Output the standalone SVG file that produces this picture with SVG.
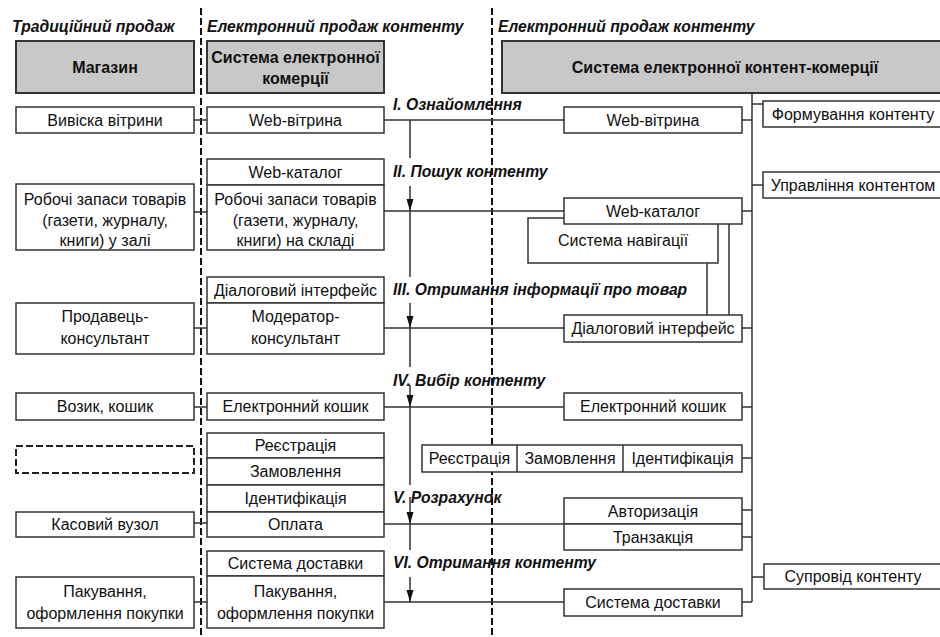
<svg xmlns="http://www.w3.org/2000/svg" width="940" height="637" viewBox="0 0 940 637">
<style>
.box{fill:#fff;stroke:#333;stroke-width:1.5}
.hdr{fill:#c8c8c8;stroke:#333;stroke-width:2}
.dbox{fill:none;stroke:#222;stroke-width:2;stroke-dasharray:7 3}
.t{font-family:"Liberation Sans",Arial,sans-serif;font-size:16px;fill:#111;text-anchor:middle}
.b{font-weight:bold}
.lbl{font-family:"Liberation Sans",Arial,sans-serif;font-size:15.7px;font-weight:bold;font-style:italic;fill:#111}
.ln{stroke:#333;stroke-width:1.5;fill:none}
.sep{stroke:#111;stroke-width:2;stroke-dasharray:7 3;fill:none}
</style>
<defs>
<marker id="ah" markerUnits="userSpaceOnUse" markerWidth="12" markerHeight="8" refX="12" refY="3.5" orient="auto">
<path d="M0,0 L12,3.5 L0,7 z" fill="#111"/>
</marker>
</defs>

<g id="headings">
<text class="lbl" x="12" y="32">Традиційний продаж</text>
<text class="lbl" x="207" y="32">Електронний продаж контенту</text>
<text class="lbl" x="498" y="32">Електронний продаж контенту</text>
</g>

<g id="separators">
<line class="sep" x1="201" y1="8" x2="201" y2="637"/>
<line class="sep" x1="492" y1="8" x2="492" y2="637"/>
</g>

<g id="connectors">
<path class="ln" d="M194,120H207 M194,212H207 M194,328H207 M194,407H207 M194,523H207 M194,602H207"/>
<path class="ln" d="M384,120H564 M384,211H564 M384,328H564 M384,407H564 M384,524H564 M384,602H564"/>
<path class="ln" d="M752,93V602 M742,120H752 M742,211H752 M742,328H752 M742,407H752 M742,458H752 M742,510H752 M742,537H752 M742,602H752 M752,104H763 M752,185H763 M752,577H764"/>
<path class="ln" d="M707,263V315 M729,224V315"/>
<path class="ln" d="M410,120V158 M410,211V277 M410,328V367 M410,407V485 M410,524V550"/>
<path class="ln" marker-end="url(#ah)" d="M410,186V211"/>
<path class="ln" marker-end="url(#ah)" d="M410,303V328"/>
<path class="ln" marker-end="url(#ah)" d="M410,385V407"/>
<path class="ln" marker-end="url(#ah)" d="M410,497V524"/>
<path class="ln" marker-end="url(#ah)" d="M410,577V602"/>
</g>

<g id="stages">
<text class="lbl" x="393" y="110">I. Ознайомлення</text>
<text class="lbl" x="393" y="177">II. Пошук контенту</text>
<text class="lbl" x="393" y="295">III. Отримання інформації про товар</text>
<text class="lbl" x="393" y="386">IV. Вибір контенту</text>
<text class="lbl" x="393" y="503">V. Розрахунок</text>
<text class="lbl" x="393" y="568">VI. Отримання контенту</text>
</g>

<g id="shop"><rect class="hdr" x="16" y="41" width="178" height="52"/><text class="t b" x="105" y="73">Магазин</text></g>
<g id="ecom"><rect class="hdr" x="207" y="41" width="177" height="52"/><text class="t b" x="295.5" y="63">Система електронної</text><text class="t b" x="295.5" y="84">комерції</text></g>
<g id="contentcom"><rect class="hdr" x="502" y="41" width="446" height="52"/><text class="t b" x="725" y="73">Система електронної контент-комерції</text></g>

<g id="l1"><rect class="box" x="16" y="107" width="178" height="26"/><text class="t" x="105" y="126">Вивіска вітрини</text></g>
<g id="l2"><rect class="box" x="16" y="184" width="178" height="66"/><text class="t" x="105" y="205">Робочі запаси товарів</text><text class="t" x="105" y="226">(газети, журналу,</text><text class="t" x="105" y="246">книги) у залі</text></g>
<g id="l3"><rect class="box" x="16" y="303" width="178" height="51"/><text class="t" x="105" y="322">Продавець-</text><text class="t" x="105" y="344">консультант</text></g>
<g id="l4"><rect class="box" x="16" y="393" width="178" height="27"/><text class="t" x="105" y="412">Возик, кошик</text></g>
<g id="l5"><rect class="dbox" x="16" y="446" width="178" height="27"/></g>
<g id="l6"><rect class="box" x="16" y="512" width="178" height="25"/><text class="t" x="105" y="530">Касовий вузол</text></g>
<g id="l7"><rect class="box" x="16" y="577" width="178" height="51"/><text class="t" x="105" y="597">Пакування,</text><text class="t" x="105" y="619">оформлення покупки</text></g>

<g id="m1"><rect class="box" x="207" y="107" width="177" height="26"/><text class="t" x="295.5" y="126">Web-вітрина</text></g>
<g id="m2a"><rect class="box" x="207" y="159" width="177" height="26"/><text class="t" x="295.5" y="178">Web-каталог</text></g>
<g id="m2b"><rect class="box" x="207" y="185" width="177" height="65"/><text class="t" x="295.5" y="205">Робочі запаси товарів</text><text class="t" x="295.5" y="226">(газети, журналу,</text><text class="t" x="295.5" y="246">книги) на складі</text></g>
<g id="m3a"><rect class="box" x="207" y="277" width="177" height="26"/><text class="t" x="295.5" y="296">Діалоговий інтерфейс</text></g>
<g id="m3b"><rect class="box" x="207" y="303" width="177" height="51"/><text class="t" x="295.5" y="322">Модератор-</text><text class="t" x="295.5" y="344">консультант</text></g>
<g id="m4"><rect class="box" x="207" y="393" width="177" height="27"/><text class="t" x="295.5" y="412">Електронний кошик</text></g>
<g id="m5a"><rect class="box" x="207" y="433" width="177" height="25"/><text class="t" x="295.5" y="451">Реєстрація</text></g>
<g id="m5b"><rect class="box" x="207" y="458" width="177" height="27"/><text class="t" x="295.5" y="477">Замовлення</text></g>
<g id="m5c"><rect class="box" x="207" y="485" width="177" height="27"/><text class="t" x="295.5" y="504">Ідентифікація</text></g>
<g id="m5d"><rect class="box" x="207" y="512" width="177" height="25"/><text class="t" x="295.5" y="530">Оплата</text></g>
<g id="m6a"><rect class="box" x="207" y="551" width="177" height="25"/><text class="t" x="295.5" y="569">Система доставки</text></g>
<g id="m6b"><rect class="box" x="207" y="576" width="177" height="52"/><text class="t" x="295.5" y="597">Пакування,</text><text class="t" x="295.5" y="619">оформлення покупки</text></g>

<g id="r1"><rect class="box" x="564" y="107" width="178" height="26"/><text class="t" x="653" y="126">Web-вітрина</text></g>
<g id="rnav"><rect class="box" x="528" y="218" width="190" height="45"/><text class="t" x="623" y="246">Система навігації</text></g>
<g id="r2"><rect class="box" x="564" y="198" width="178" height="26"/><text class="t" x="653" y="217">Web-каталог</text></g>
<g id="r3"><rect class="box" x="564" y="315" width="178" height="27"/><text class="t" x="653" y="334">Діалоговий інтерфейс</text></g>
<g id="r4"><rect class="box" x="564" y="393" width="178" height="27"/><text class="t" x="653" y="412">Електронний кошик</text></g>
<g id="r5"><rect class="box" x="422" y="445" width="320" height="27"/><line class="ln" x1="517" y1="445" x2="517" y2="472"/><line class="ln" x1="623" y1="445" x2="623" y2="472"/><text class="t" x="469.5" y="464">Реєстрація</text><text class="t" x="570" y="464">Замовлення</text><text class="t" x="682.5" y="464">Ідентифікація</text></g>
<g id="r6a"><rect class="box" x="564" y="498" width="178" height="26"/><text class="t" x="653" y="517">Авторизація</text></g>
<g id="r6b"><rect class="box" x="564" y="524" width="178" height="26"/><text class="t" x="653" y="543">Транзакція</text></g>
<g id="r7"><rect class="box" x="564" y="589" width="178" height="27"/><text class="t" x="653" y="608">Система доставки</text></g>

<g id="f1"><rect class="box" x="763" y="101" width="182" height="26"/><text class="t" x="853" y="120">Формування контенту</text></g>
<g id="f2"><rect class="box" x="763" y="172" width="182" height="26"/><text class="t" x="853" y="191">Управління контентом</text></g>
<g id="f3"><rect class="box" x="764" y="564" width="182" height="25"/><text class="t" x="853" y="582">Супровід контенту</text></g>
</svg>
